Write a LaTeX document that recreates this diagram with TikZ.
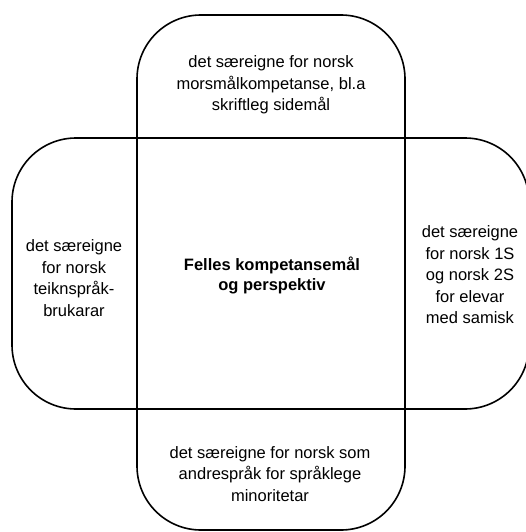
\documentclass[tikz,border=0pt]{standalone}
\usepackage{fontspec}
\setmainfont{Liberation Sans}
\usepackage{tikz}

\begin{document}
\begin{tikzpicture}[x=1pt,y=-1pt,line width=1.6pt,
		petal/.style={draw, black, rounded corners=64pt},
		lbl/.style={align=center, font=\fontsize{16.5}{21.5}\selectfont},
		mainlbl/.style={lbl, font=\fontsize{16.5}{20}\selectfont\bfseries}]

			\useasboundingbox (0,0) rectangle (526,532);

			\coordinate (nw) at (137,138);
			\coordinate (ne) at (405,138);
			\coordinate (se) at (405,409);
			\coordinate (sw) at (137,409);

			\draw [petal] (nw) -- (137,15) -- (405,15) -- (ne);
			\draw [petal] (nw) -- (12,138) -- (12,409) -- (sw);
			\draw [petal] (ne) -- (529,138) -- (529,409) -- (se);
			\draw [petal] (sw) -- (137,530) -- (405,530) -- (se);
			\draw (nw) rectangle (se);

			\node [lbl] (top) at (271,85) {det særeigne for norsk\\morsmålkompetanse, bl.a\\skriftleg sidemål};
			\node [lbl] (left) at (74,278) {det særeigne\\for norsk\\teiknspråk-\\brukarar};
			\node [lbl] (right) at (470,275) {det særeigne\\for norsk 1S\\og norsk 2S\\for elevar\\med samisk};
			\node [lbl] (bottom) at (270,474) {det særeigne for norsk som\\andrespråk for språklege\\minoritetar};
			\node [mainlbl] (core) at (272,275) {Felles kompetansemål\\og perspektiv};
		\end{tikzpicture}
\end{document}
